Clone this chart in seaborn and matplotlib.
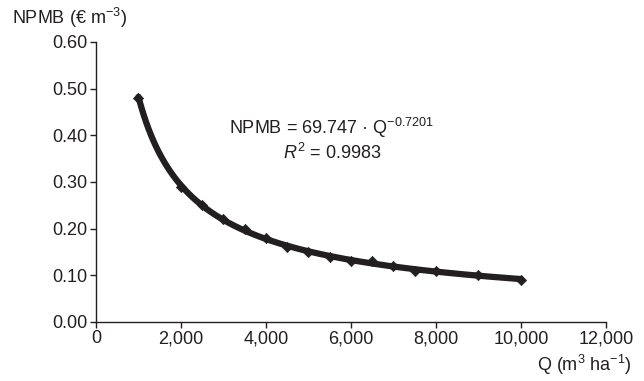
import numpy as np
import pandas as pd
import seaborn as sns
import matplotlib.pyplot as plt
from matplotlib import font_manager

q = [1000, 2000, 2500, 3000, 3500, 4000, 4500, 5000, 5500, 6000, 6500, 7000, 7500, 8000, 9000, 10000]
npmb = [0.48, 0.29, 0.25, 0.22, 0.20, 0.18, 0.16, 0.15, 0.14, 0.13, 0.13, 0.12, 0.11, 0.11, 0.10, 0.09]
x_ticks = [0, 2000, 4000, 6000, 8000, 10000, 12000]
y_ticks = [0.0, 0.1, 0.2, 0.3, 0.4, 0.5, 0.6]

df = pd.DataFrame({'Q': q, 'NPMB': npmb})

sns.set_style('white')
names = {f.name for f in font_manager.fontManager.ttflist}
fam = 'Liberation Sans Narrow' if 'Liberation Sans Narrow' in names else 'Liberation Sans'
plt.rcParams['font.family'] = [fam, 'DejaVu Sans']
plt.rcParams['mathtext.fontset'] = 'custom'
plt.rcParams['mathtext.rm'] = fam
plt.rcParams['mathtext.it'] = fam + ':italic'

ink = '#231f20'
fs = 13
fig = plt.figure(figsize=(6.44, 3.81), dpi=100)
ax = fig.add_axes([0.149, 0.155, 0.792, 0.735])

# power trendline fitted on log-log
b, a = np.polyfit(np.log(df['Q']), np.log(df['NPMB']), 1)
qq = np.linspace(min(q), max(q), 300)
fit = pd.DataFrame({'Q': qq, 'NPMB': np.exp(a) * qq ** b})
sns.lineplot(data=fit, x='Q', y='NPMB', ax=ax, color=ink, linewidth=4.5)
sns.scatterplot(data=df, x='Q', y='NPMB', ax=ax, color=ink, marker='D', s=28, edgecolor=ink, zorder=3)

ax.set_xlim(0, 12000)
ax.set_ylim(0, 0.6)
ax.set_xticks(x_ticks)
ax.set_xticklabels([f'{v:,}' for v in x_ticks])
ax.set_yticks(y_ticks)
ax.set_yticklabels([f'{v:.2f}' for v in y_ticks])
ax.set_xlabel('')
ax.set_ylabel('')
for s in ['top', 'right']:
    ax.spines[s].set_visible(False)
for s in ['left', 'bottom']:
    ax.spines[s].set_color(ink)
    ax.spines[s].set_linewidth(1.0)
ax.tick_params(axis='both', direction='out', length=4, width=1, color=ink,
               labelsize=fs, labelcolor=ink, pad=2, left=True, bottom=True)

fig.text(12 / 644, 1 - 18 / 381, 'NPMB (€ m$^{-3}$)', fontsize=fs, color=ink, va='center', ha='left')
fig.text(632 / 644, 1 - 365 / 381, 'Q (m$^{3}$ ha$^{-1}$)', fontsize=fs, color=ink, va='center', ha='right')
ax.text(5550, 0.416, 'NPMB = 69.747 · Q$^{-0.7201}$', fontsize=fs, color=ink, ha='center', va='center')
ax.text(5550, 0.362, '$\\mathit{R}^{2}$ = 0.9983', fontsize=fs, color=ink, ha='center', va='center')

fig.savefig('out.png', dpi=100)
